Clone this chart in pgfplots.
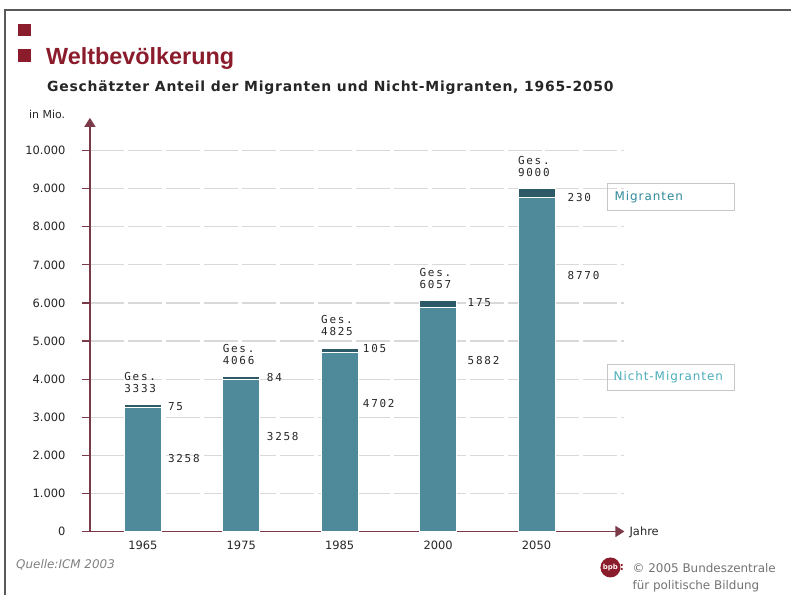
\documentclass[border=0pt]{standalone}
\usepackage{fontspec}
\setmainfont{DejaVu Sans}
\newfontfamily\monof[LetterSpace=16]{DejaVu Sans Mono}
\newfontfamily\titlef{Liberation Sans}
\newfontfamily\subf[LetterSpace=5.5]{DejaVu Sans}
\newfontfamily\legf[LetterSpace=8]{DejaVu Sans}
\usepackage{pgfplots}
\pgfplotsset{compat=1.18}
\usetikzlibrary{arrows.meta}
\definecolor{axiscol}{HTML}{7A3A47}
\definecolor{gridcol}{HTML}{D9D9D9}
\definecolor{nmcol}{HTML}{4F8A9B}
\definecolor{mcol}{HTML}{2D5A66}
\definecolor{bpbred}{HTML}{8B1C2C}
\definecolor{txt}{HTML}{262626}
\definecolor{leg1}{HTML}{2F8A9A}
\definecolor{leg2}{HTML}{4AADBB}
\pgfplotsset{layers/mylayers/.define layer set={axis background,axis grid,main,axis ticks,axis lines,axis tick labels,axis descriptions,axis foreground}{}}
\tikzset{lab/.style={anchor=west, inner sep=0pt, text=txt, font=\monof\fontsize{11}{12}\selectfont},
  tot/.style={anchor=south west, inner sep=0pt, align=left, text=txt, font=\monof\fontsize{11}{11.5}\selectfont, yshift=12bp}}
\begin{document}
\begin{tikzpicture}[x=1bp,y=1bp]
\fill[white] (0,0) rectangle (792,596);
% frame
\draw[color=black!65, line width=1.5bp] (5,0) -- (5,586) -- (792,586);
% title
\fill[bpbred] (18,560) rectangle (31,572);
\fill[bpbred] (18,534) rectangle (31,547);
\node[anchor=base west, inner sep=0pt, text=bpbred, font=\titlef\bfseries\fontsize{23.5}{26}\selectfont] at (46,531) {Weltbevölkerung};
\node[anchor=base west, inner sep=0pt, text=txt, font=\subf\bfseries\fontsize{14}{16}\selectfont] at (47,504) {Geschätzter Anteil der Migranten und Nicht-Migranten, 1965-2050};
\node[anchor=west, inner sep=0pt, text=txt, font=\fontsize{11}{13}\selectfont] at (29,481) {in Mio.};
\begin{axis}[
  set layers=mylayers,
  at={(90bp,64bp)}, anchor=south west,
  scale only axis, width=535bp, height=414bp,
  xmin=-0.538, xmax=4.893, ymin=0, ymax=10858,
  axis lines=left,
  axis line style={draw=axiscol, line width=1.5bp, -{Triangle[width=11bp,length=9bp]}},
  ybar stacked, bar width=37bp,
  xtick={0,1,2,3,4}, xticklabels={1965,1975,1985,2000,2050},
  ytick={0,1000,...,10000},
  yticklabels={0,1.000,2.000,3.000,4.000,5.000,6.000,7.000,8.000,9.000,10.000},
  scaled y ticks=false,
  tick align=outside, major tick length=8bp,
  ytick style={draw=axiscol, line width=1.2bp},
  xtick style={draw=none},
  /pgf/number format/assume math mode=true,
  ticklabel style={text=txt, font=\fontsize{11.5}{13}\selectfont},
  yticklabel style={xshift=-13bp},
  xticklabel style={yshift=2bp},
  ymajorgrids, grid style={draw=gridcol, line width=1.2bp, dash pattern=on 34bp off 4bp},
]
\addplot[fill=nmcol, draw=white, line width=0.8bp] coordinates {(0,3258) (1,3982) (2,4702) (3,5882) (4,8770)};
\addplot[fill=mcol, draw=white, line width=0.8bp] coordinates {(0,75) (1,84) (2,105) (3,175) (4,230)};
% total labels
\node[tot] at (axis cs:-0.19,3333) {Ges.\\3333};
\node[tot] at (axis cs:0.81,4066) {Ges.\\4066};
\node[tot] at (axis cs:1.81,4825) {Ges.\\4825};
\node[tot] at (axis cs:2.81,6057) {Ges.\\6057};
\node[tot] at (axis cs:3.81,9000) {Ges.\\9000};
% migrant labels
\node[lab] at (axis cs:0.254,3278) {75};
\node[lab] at (axis cs:1.259,4039) {84};
\node[lab] at (axis cs:2.234,4793) {105};
\node[lab] at (axis cs:3.299,5999) {175};
\node[lab] at (axis cs:4.315,8760) {230};
% non-migrant labels
\node[lab] at (axis cs:0.254,1915) {3258};
\node[lab] at (axis cs:1.259,2491) {3258};
\node[lab] at (axis cs:2.234,3357) {4702};
\node[lab] at (axis cs:3.299,4485) {5882};
\node[lab] at (axis cs:4.315,6714) {8770};
\end{axis}
\node[anchor=west, inner sep=0pt, text=txt, font=\fontsize{11.5}{13}\selectfont] at (630,63) {Jahre};
% legend boxes
\draw[draw=black!22, line width=1.2bp] (608,385) rectangle (735,412);
\node[anchor=west, inner sep=0pt, text=leg1, font=\legf\fontsize{12}{14}\selectfont] at (615,398.5) {Migranten};
\draw[draw=black!22, line width=1.2bp] (608,205) rectangle (735,231);
\node[anchor=west, inner sep=0pt, text=leg2, font=\legf\fontsize{12}{14}\selectfont] at (614,218) {Nicht-Migranten};
% footer
\node[anchor=west, inner sep=0pt, text=black!50, font=\itshape\fontsize{12}{14}\selectfont] at (16,31) {Quelle:ICM 2003};
\fill[bpbred] (611,28) circle (10);
\node[inner sep=0pt, text=white!85!pink, font=\bfseries\fontsize{7}{8}\selectfont] at (611,28) {bpb};
\node[anchor=west, inner sep=0pt, text=bpbred, font=\bfseries\fontsize{11}{12}\selectfont] at (620,28) {:};
\node[anchor=west, inner sep=0pt, text=black!55, font=\fontsize{12}{14}\selectfont] at (633,27) {© 2005 Bundeszentrale};
\node[anchor=west, inner sep=0pt, text=black!55, font=\fontsize{12}{14}\selectfont] at (633,9) {für politische Bildung};
\end{tikzpicture}
\end{document}
